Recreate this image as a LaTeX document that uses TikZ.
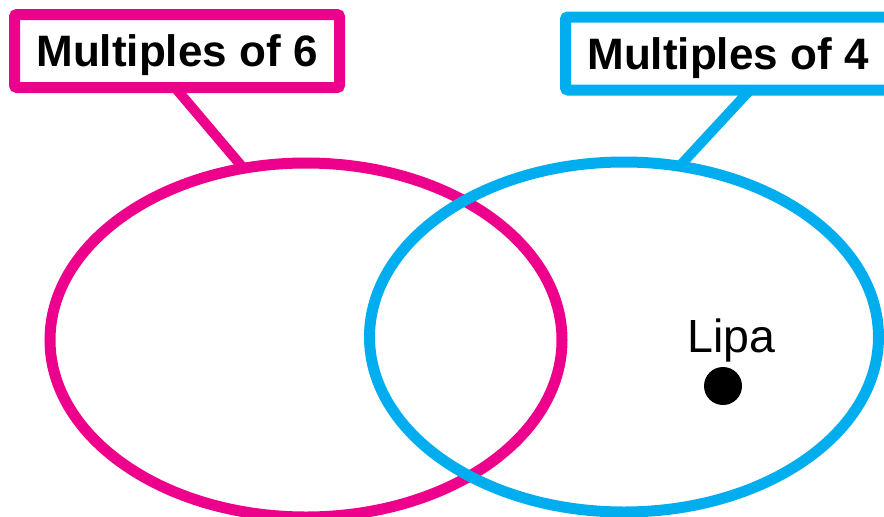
\documentclass[tikz,border=0pt]{standalone}
\usepackage{fontspec}
\setmainfont{Liberation Sans}
\usetikzlibrary{shapes.geometric}
\definecolor{setpink}{HTML}{EC008C}
\definecolor{setblue}{HTML}{00AEEF}
\tikzset{
  setring/.style={draw=#1, ellipse, line width=11pt, outer sep=0pt, inner sep=0pt},
  setlabel/.style={draw=#1, fill=white, rectangle, rounded corners=2.5pt, line width=11pt,
    minimum width=325pt, minimum height=73pt, inner sep=0pt, outer sep=0pt,
    font=\fontsize{44}{47}\selectfont\bfseries, text height=31.5pt, text depth=0pt},
  tie/.style={draw=#1, line width=10pt},
}
\begin{document}
\begin{tikzpicture}[x=1pt, y=-1pt]
  \useasboundingbox (0,0) rectangle (884,517);
  % the two overlapping sets
  \node[setring=setpink, minimum width=512pt, minimum height=354pt] (six) at (306,340) {};
  \node[setring=setblue, minimum width=509pt, minimum height=350pt] (four) at (624,337) {};
  % set labels
  \node[setlabel=setpink] (sixlab) at (177,51) {Multiples of 6};
  \node[setlabel=setblue] (fourlab) at (728,53.5) {Multiples of 4};
  % label ties
  \draw[tie=setpink] ([xshift=-2pt]sixlab.south) -- (six.110);
  \draw[tie=setblue] ([xshift=22pt]fourlab.south) -- (four.72);
  % the element
  \node[font=\fontsize{46.5}{50}\selectfont, anchor=base, inner sep=0pt] (lipa) at (731.5,352) {Lipa};
  \node[circle, fill=black, minimum size=38pt, inner sep=0pt] (dot) at (723,386) {};
\end{tikzpicture}
\end{document}
